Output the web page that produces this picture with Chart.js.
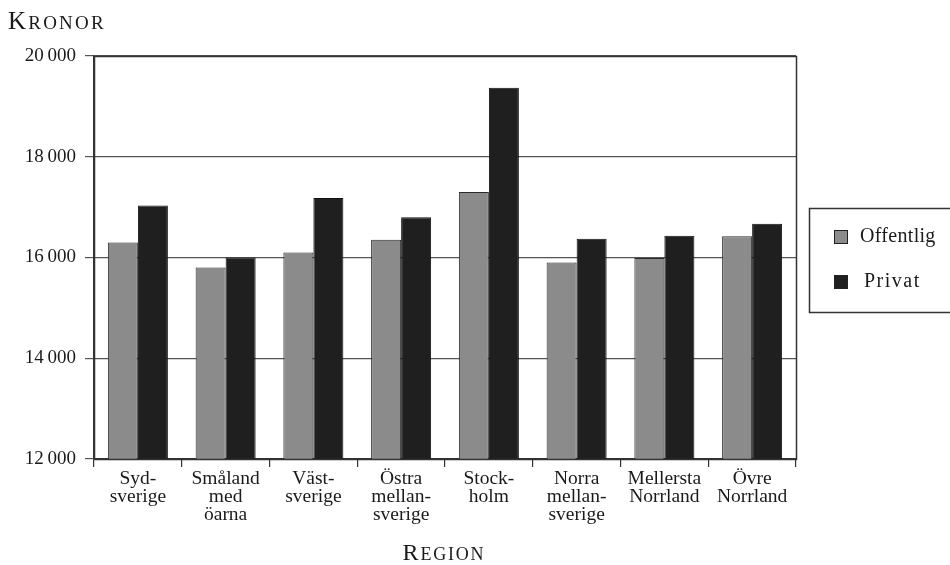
<!DOCTYPE html>
<html>
<head>
<meta charset="utf-8">
<script src="https://cdn.jsdelivr.net/npm/chart.js@4/dist/chart.umd.min.js"></script>
<style>
html,body{margin:0;padding:0;background:#fff;}
#wrap{width:950px;height:565px;position:relative;}
</style>
</head>
<body>
<div id="wrap"><canvas id="c" width="950" height="565"></canvas></div>
<script>
const categories = [
  ["Syd-","sverige"],
  ["Småland","med","öarna"],
  ["Väst-","sverige"],
  ["Östra","mellan-","sverige"],
  ["Stock-","holm"],
  ["Norra","mellan-","sverige"],
  ["Mellersta","Norrland"],
  ["Övre","Norrland"]
];
const seriesNames = ["Offentlig","Privat"];
const offentlig = [16300, 15800, 16100, 16350, 17300, 15900, 15990, 16420];
const privat    = [17030, 16000, 17180, 16800, 19370, 16370, 16430, 16670];
const yTicks = [12000, 14000, 16000, 18000, 20000];
const yAxisTitle = "Kronor";
const xAxisTitle = "Region";

const SERIF = '"Liberation Serif", "DejaVu Serif", serif';
const colors = ["#8b8b8b", "#1f1f1f"];

function fmt(v){
  const s = String(v);
  return s.slice(0, s.length-3) + "\u2009" + s.slice(-3);
}

function drawSmallCaps(ctx, text, x, y, big, small, ls){
  ctx.save();
  ctx.fillStyle = "#1a1a1a";
  ctx.textBaseline = "alphabetic";
  ctx.textAlign = "left";
  ctx.letterSpacing = ls + "px";
  ctx.font = big + "px " + SERIF;
  const first = text[0].toUpperCase();
  ctx.fillText(first, x, y);
  let w = ctx.measureText(first).width;
  ctx.font = small + "px " + SERIF;
  const rest = text.slice(1).toUpperCase();
  ctx.fillText(rest, x + w, y);
  w += ctx.measureText(rest).width;
  ctx.restore();
  return w;
}
function measureSmallCaps(ctx, text, big, small, ls){
  ctx.save();
  ctx.letterSpacing = ls + "px";
  ctx.font = big + "px " + SERIF;
  let w = ctx.measureText(text[0].toUpperCase()).width;
  ctx.font = small + "px " + SERIF;
  w += ctx.measureText(text.slice(1).toUpperCase()).width;
  ctx.restore();
  return w;
}

const decor = {
  id: "decor",
  afterDraw(chart){
    const ctx = chart.ctx;
    const a = chart.chartArea;
    ctx.save();
    ctx.strokeStyle = "#333";
    ctx.lineWidth = 1.5;
    ctx.strokeRect(Math.round(a.left)+0.5, Math.round(a.top)+0.5, Math.round(a.right-a.left), Math.round(a.bottom-a.top));
    ctx.restore();
    drawSmallCaps(ctx, yAxisTitle, 8, 29, 25, 19, 2.2);
    const w = measureSmallCaps(ctx, xAxisTitle, 24, 18, 1.8);
    drawSmallCaps(ctx, xAxisTitle, 444 - w/2, 560, 24, 18, 1.8);
    // legend
    ctx.save();
    ctx.strokeStyle = "#333";
    ctx.lineWidth = 1.5;
    ctx.beginPath();
    ctx.moveTo(952, 208.5);
    ctx.lineTo(809.5, 208.5);
    ctx.lineTo(809.5, 312.5);
    ctx.lineTo(952, 312.5);
    ctx.stroke();
    const ys = [237, 282];
    seriesNames.forEach((n, i) => {
      ctx.fillStyle = colors[i];
      ctx.fillRect(834, ys[i]-7, 14, 14);
      ctx.strokeStyle = "#222";
      ctx.lineWidth = 1;
      ctx.strokeRect(834.5, ys[i]-6.5, 13, 13);
      ctx.fillStyle = "#1a1a1a";
      ctx.font = "20px " + SERIF;
      ctx.letterSpacing = (i === 0 ? 0.3 : 1.5) + "px";
      ctx.textBaseline = "middle";
      ctx.textAlign = "left";
      ctx.fillText(n, i === 0 ? 860 : 864, ys[i]);
    });
    ctx.restore();
  }
};

new Chart(document.getElementById("c"), {
  type: "bar",
  data: {
    labels: categories,
    datasets: [
      { label: seriesNames[0], data: offentlig, backgroundColor: colors[0], borderColor: "#2a2a2a", borderWidth: 1 },
      { label: seriesNames[1], data: privat, backgroundColor: colors[1], borderColor: "#111", borderWidth: 1 }
    ]
  },
  options: {
    responsive: false,
    animation: false,
    devicePixelRatio: 1,
    layout: { padding: { top: 56, right: 154, left: 0, bottom: 0 } },
    datasets: { bar: { categoryPercentage: 0.684, barPercentage: 1.0 } },
    plugins: { legend: { display: false }, tooltip: { enabled: false } },
    scales: {
      x: {
        grid: { display: true, drawOnChartArea: false, drawTicks: true, tickLength: 8, offset: true, color: "#333", lineWidth: 1.2 },
        border: { display: true, color: "#333", width: 1.5 },
        ticks: { color: "#1a1a1a", font: { family: SERIF, size: 19.5, lineHeight: 0.93 }, padding: 3, maxRotation: 0, autoSkip: false },
        afterFit(s){ s.height = 106; }
      },
      y: {
        min: 12000, max: 20000,
        afterBuildTicks(s){ s.ticks = yTicks.map(v => ({ value: v })); },
        grid: { color: "#555", lineWidth: 1.2, drawTicks: true, tickLength: 9 },
        border: { display: true, color: "#333", width: 1.5 },
        ticks: { color: "#1a1a1a", font: { family: SERIF, size: 19 }, padding: 9, callback: v => fmt(v) },
        afterFit(s){ s.width = 94; }
      }
    }
  },
  plugins: [decor]
});
</script>
</body>
</html>
